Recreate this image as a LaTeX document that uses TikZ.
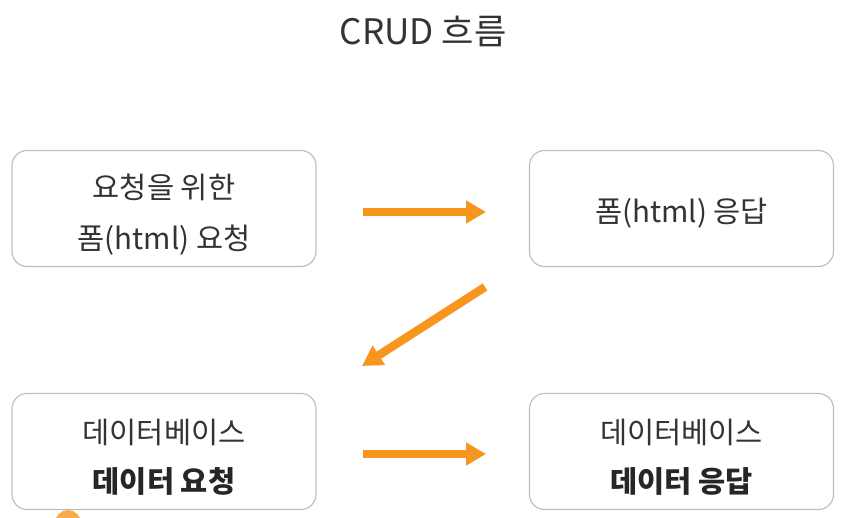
\documentclass[tikz,border=0pt]{standalone}
\usepackage{fontspec}
\setmainfont{Noto Sans CJK KR}
\usetikzlibrary{arrows.meta}
\definecolor{flowor}{HTML}{F7961E}
\definecolor{boxgray}{HTML}{BDBDBD}
\definecolor{txtgray}{HTML}{333333}
\tikzset{
  stepbox/.style={draw=boxgray, line width=0.8pt, rounded corners=0.38cm,
    minimum width=7.6cm, minimum height=2.9cm, inner sep=0pt},
  boxtxt/.style={font=\fontsize{21}{24}\selectfont, text=txtgray},
  boldtxt/.style={font=\fontsize{21}{24}\selectfont\bfseries, text=black!85},
  flow/.style={flowor, line width=6pt, -{Triangle[length=0.5cm, width=0.55cm]}}
}
\begin{document}
\begin{tikzpicture}[x=0.025cm, y=-0.025cm]
  \useasboundingbox (0, 0) rectangle (847, 518);
  \clip (0, 0) rectangle (847, 518);
  \node[font=\fontsize{25}{29}\selectfont, text=txtgray] (title) at (423, 31) {CRUD 흐름};
  % boxes
  \node[stepbox] (formreq) at (164, 208.5) {};
  \node[stepbox] (formres) at (681.5, 208.5) {};
  \node[stepbox] (dbreq) at (164, 451.5) {};
  \node[stepbox] (dbres) at (681.5, 451.5) {};
  \node[boxtxt] (formreqa) at (164, 187) {요청을 위한};
  \node[boxtxt] (formreqb) at (164, 240) {폼(html) 요청};
  \node[boxtxt] (formresa) at (681.5, 213) {폼(html) 응답};
  \node[boxtxt] (dbreqa) at (164, 432) {데이터베이스};
  \node[boldtxt] (dbreqb) at (164, 481) {데이터 요청};
  \node[boxtxt] (dbresa) at (681.5, 432) {데이터베이스};
  \node[boldtxt] (dbresb) at (681.5, 481) {데이터 응답};
  % arrows
  \coordinate (ta) at (363, 212);
  \coordinate (tb) at (486, 212);
  \coordinate (da) at (485, 287);
  \coordinate (db) at (362, 366);
  \coordinate (ba) at (363, 454);
  \coordinate (bb) at (486, 454);
  \draw[flow] (ta) -- (tb);
  \draw[flow] (da) -- (db);
  \draw[flow] (ba) -- (bb);
  \fill[flowor!80] (68, 523) circle (13);
\end{tikzpicture}
\end{document}
